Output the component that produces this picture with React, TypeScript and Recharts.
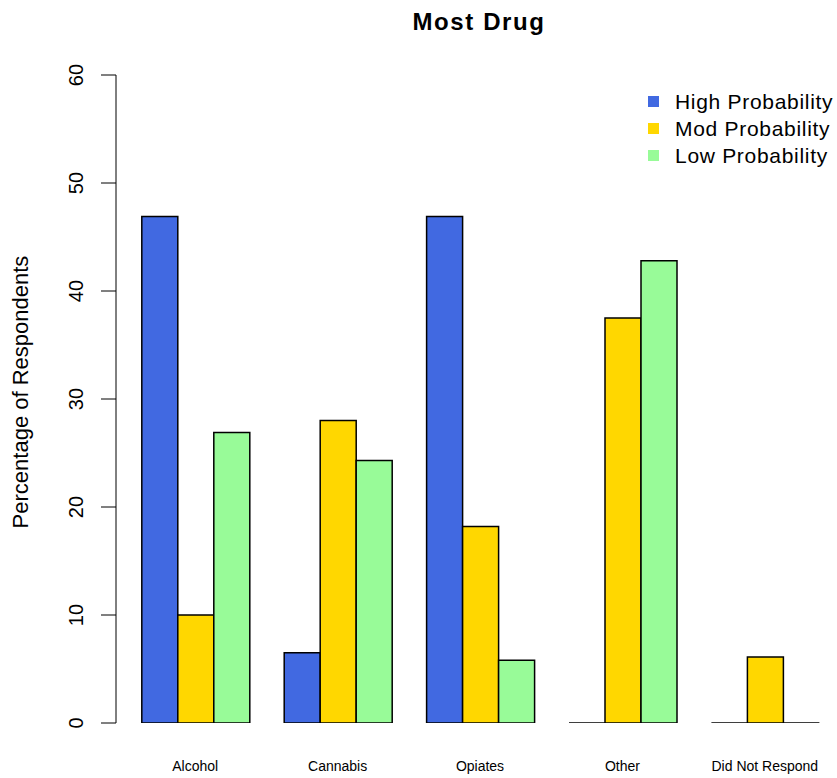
import React from 'react'
import { BarChart, Bar, XAxis, YAxis, Legend } from 'recharts'

const categories = ['Alcohol', 'Cannabis', 'Opiates', 'Other', 'Did Not Respond']
const highProbability = [46.9, 6.5, 46.9, 0, 0]
const modProbability = [10, 28, 18.2, 37.5, 6.1]
const lowProbability = [26.9, 24.3, 5.8, 42.8, 0]
const yTicks = [0, 10, 20, 30, 40, 50, 60]

const series = [
  { key: 'high', name: 'High Probability', color: '#4169E1' },
  { key: 'mod', name: 'Mod Probability', color: '#FFD700' },
  { key: 'low', name: 'Low Probability', color: '#98FB98' }
]

const data = categories.map((name, i) => ({
  name,
  high: highProbability[i],
  mod: modProbability[i],
  low: lowProbability[i]
}))

const FONT = '"Liberation Sans", Arial, sans-serif'

// R draws zero-height bars as a flat line, so use a path instead of a rect
const BarShape = (props: any) => {
  const { x, y, width, height, fill } = props
  return (
    <path
      d={`M${x},${y}h${width}v${height}h${-width}Z`}
      fill={fill}
      stroke="#000"
      strokeWidth={1.5}
    />
  )
}

const YTick = (props: any) => {
  const { x, y, payload } = props
  const cx = x - 16
  return (
    <text
      x={cx}
      y={y}
      transform={`rotate(-90, ${cx}, ${y})`}
      textAnchor="middle"
      fontSize={20}
      fontFamily={FONT}
      fill="#000"
    >
      {payload.value}
    </text>
  )
}

const XTick = (props: any) => {
  const { x, y, payload } = props
  return (
    <text x={x} y={y + 40} textAnchor="middle" fontSize={14} fontFamily={FONT} fill="#000">
      {payload.value}
    </text>
  )
}

const LegendBox = () => (
  <div style={{ fontFamily: FONT, fontSize: 21, letterSpacing: 0.7, color: '#000' }}>
    {series.map(s => (
      <div key={s.key} style={{ display: 'flex', alignItems: 'center', height: 27 }}>
        <span style={{ width: 11, height: 11, background: s.color, marginRight: 16, display: 'inline-block' }} />
        <span>{s.name}</span>
      </div>
    ))}
  </div>
)

export default function App() {
  return (
    <div style={{ position: 'absolute', left: 0, top: 0, width: 837, height: 778, background: '#fff' }}>
      <BarChart
        width={837}
        height={778}
        data={data}
        margin={{ top: 75, right: 1, bottom: 15, left: 0 }}
        barCategoryGap="12.5%"
        barGap={0}
      >
        <text
          x={479}
          y={30}
          textAnchor="middle"
          fontSize={24}
          fontWeight="bold"
          letterSpacing={1.6}
          fontFamily={FONT}
          fill="#000"
        >
          Most Drug
        </text>
        <text
          x={28}
          y={392}
          transform="rotate(-90, 28, 392)"
          textAnchor="middle"
          fontSize={22}
          fontFamily={FONT}
          fill="#000"
        >
          Percentage of Respondents
        </text>
        <XAxis
          dataKey="name"
          height={40}
          axisLine={false}
          tickLine={false}
          tick={<XTick />}
          padding={{ left: 8, right: 0 }}
          interval={0}
        />
        <YAxis
          width={116}
          domain={[0, 60]}
          ticks={yTicks}
          tickSize={15}
          tick={<YTick />}
          stroke="#000"
          allowDataOverflow
        />
        <Legend
          layout="horizontal"
          verticalAlign="middle"
          align="center"
          content={<LegendBox />}
          wrapperStyle={{ position: 'absolute', left: 648, top: 88, width: 189 }}
        />
        {series.map(s => (
          <Bar
            key={s.key}
            dataKey={s.key}
            name={s.name}
            fill={s.color}
            shape={<BarShape />}
            isAnimationActive={false}
          />
        ))}
      </BarChart>
    </div>
  )
}
